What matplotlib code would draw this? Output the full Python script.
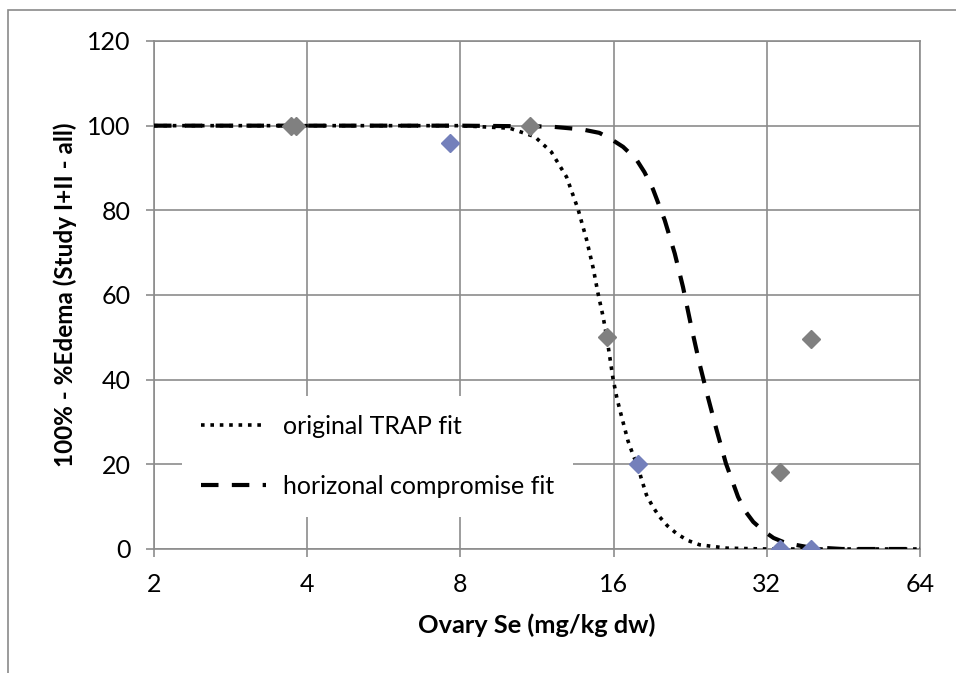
import matplotlib
matplotlib.use("Agg")
import matplotlib.pyplot as plt
from matplotlib.patches import Rectangle

plt.rcParams["font.family"] = ["Lato", "DejaVu Sans"]

# observed points (two series, grey and blue markers)
grey_x = [3.72, 3.80, 10.95, 15.5, 34.0, 39.1]
grey_y = [100, 100, 100, 50, 18.3, 49.7]
blue_x = [7.63, 17.9, 34.0, 39.1]
blue_y = [96, 20, 0, 0]

# fitted curves
trap_x = [2, 4, 8, 10, 11.2, 12.07, 12.93, 13.62, 14.15, 14.58, 14.91, 15.25, 15.49,
          15.72, 15.96, 16.25, 16.57, 17.08, 17.5, 17.87, 18.1, 18.56, 19.1, 19.7,
          20.4, 21.3, 22.4, 23.6, 26.7, 32, 64]
trap_y = [100, 100, 100, 99.4, 97.4, 93.8, 87.9, 80.3, 73.2, 66.5, 60.4, 55.0, 50.5,
          45.5, 40.2, 35.5, 31.5, 25.5, 22.0, 19.5, 17.0, 12.8, 10.0, 7.6,
          5.5, 3.6, 2.0, 1.0, 0.2, 0, 0]
comp_x = [2, 4, 8, 12, 13.9, 15.0, 15.73, 16.7, 17.74, 18.4, 19.12, 20.16, 21.1, 21.9,
          22.74, 23.6, 24.5, 25.5, 26.6, 28.1, 29.0, 30.1, 31.5, 33.0, 34.9, 38.3, 45, 64]
comp_y = [100, 100, 100, 99.8, 99.1, 98.3, 97.0, 95.0, 92.0, 89.0, 85.0, 77.7, 69.8, 61.9,
          52.5, 43.8, 36.0, 28.1, 20.2, 12.3, 9.0, 6.4, 4.3, 2.6, 1.4, 0.5, 0, 0]

x_ticks = [2, 4, 8, 16, 32, 64]
y_ticks = [0, 20, 40, 60, 80, 100, 120]

fig = plt.figure(figsize=(9.56, 6.73), dpi=100)
ax = fig.add_axes([154 / 956, 124 / 673, 766 / 956, 508 / 673])

grid_c = "#8c8c8c"
ax.set_xscale("log", base=2)
ax.set_xlim(2, 64)
ax.set_ylim(0, 120)
ax.set_xticks(x_ticks)
ax.set_xticklabels([str(t) for t in x_ticks])
ax.set_yticks(y_ticks)
ax.minorticks_off()
ax.grid(True, color=grid_c, lw=1.2)
ax.set_axisbelow(True)
for s in ax.spines.values():
    s.set_color(grid_c)
    s.set_linewidth(1.2)
ax.tick_params(axis="both", direction="out", length=6, width=1.2, color=grid_c,
               labelsize=18, pad=11)

ax.plot(trap_x, trap_y, color="black", lw=2.6, ls=(0, (1.0, 1.6)),
        label="original TRAP fit", zorder=3)
ax.plot(comp_x, comp_y, color="black", lw=3.0, ls=(0, (4.2, 3.2)),
        label="horizonal compromise fit", zorder=3)
ax.plot(grey_x, grey_y, ls="none", marker="D", ms=9.5, color="#808080", zorder=4)
ax.plot(blue_x, blue_y, ls="none", marker="D", ms=9.5, color="#7480bb", zorder=4)

ax.set_xlabel("Ovary Se (mg/kg dw)", fontsize=18.3, fontweight="bold", labelpad=13)
ax.set_ylabel("100% - %Edema (Study I+II - all)", fontsize=17.5, fontweight="bold")
ax.yaxis.set_label_coords(-0.1, 0.5)

leg = ax.legend(loc="upper left", bbox_to_anchor=(0.02, 0.325), fontsize=18,
                frameon=True, facecolor="white", edgecolor="none", framealpha=1,
                fancybox=False, handlelength=2.6, handletextpad=0.7,
                labelspacing=1.47, borderpad=0.75)
leg.set_zorder(5)

# outer chart border
fig.patches.append(Rectangle((8 / 956, -0.1), 1.2, 0.1 + 663 / 673, fill=False,
                             edgecolor="#8a8a8a", lw=1.2, transform=fig.transFigure))

fig.savefig("out.png", dpi=100)
